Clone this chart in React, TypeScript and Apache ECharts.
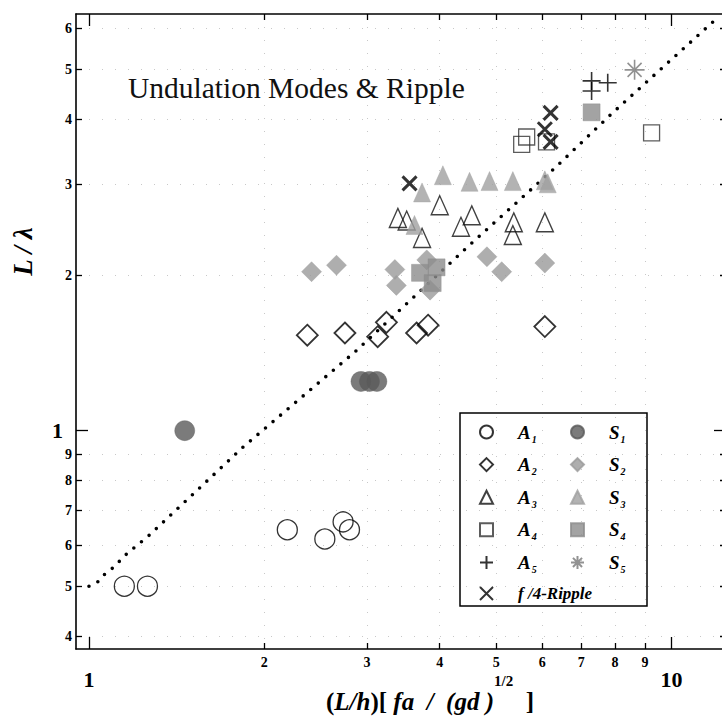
import React, { useEffect, useRef } from 'react';
import * as echarts from 'echarts';

// ---- axis ticks / labels ----
const xLabelValues = [1, 2, 3, 4, 5, 6, 7, 8, 9, 10];
const xMinorTicks = [2, 3, 4, 5, 6, 7, 8, 9];
const xMajorTicks = [1, 10];
const yLabelValues = [0.4, 0.5, 0.6, 0.7, 0.8, 0.9, 1, 2, 3, 4, 5, 6];
const yMinorTicks = [0.4, 0.5, 0.6, 0.7, 0.8, 0.9, 2, 3, 4, 5, 6];
const yMajorTicks = [1];

// ---- data ----
const a1X = [1.15, 1.26, 2.19, 2.54, 2.73, 2.8];
const a1Y = [0.5, 0.5, 0.643, 0.617, 0.666, 0.643];
const s1X = [1.46, 2.93, 3.03, 3.12];
const s1Y = [1.0, 1.245, 1.245, 1.245];
const a2X = [2.37, 2.75, 3.13, 3.24, 3.65, 3.82, 6.06];
const a2Y = [1.53, 1.545, 1.52, 1.62, 1.545, 1.6, 1.59];
const s2X = [2.41, 2.66, 3.35, 3.37, 3.8, 3.85, 4.82, 5.11, 6.06];
const s2Y = [2.03, 2.09, 2.05, 1.91, 2.14, 1.87, 2.17, 2.03, 2.11];
const a3X = [3.39, 3.51, 3.73, 4.0, 4.54, 4.35, 5.36, 5.34, 6.06];
const a3Y = [2.58, 2.55, 2.36, 2.73, 2.61, 2.48, 2.53, 2.39, 2.53];
const s3X = [3.62, 3.73, 4.05, 4.5, 4.87, 5.34, 6.06, 6.13];
const s3Y = [2.5, 2.89, 3.12, 3.03, 3.04, 3.04, 3.05, 3.01];
const a4X = [5.64, 5.53, 6.1, 9.24];
const a4Y = [3.7, 3.58, 3.62, 3.77];
const s4X = [3.7, 3.95, 3.89, 7.29];
const s4Y = [2.02, 2.07, 1.93, 4.13];
const a5X = [7.29, 7.29, 7.77];
const a5Y = [4.75, 4.54, 4.71];
const s5X = [8.64];
const s5Y = [4.99];
const rippleX = [3.55, 6.2, 6.06, 6.2];
const rippleY = [3.01, 4.12, 3.83, 3.62];
const curveX = [1.0, 1.036, 1.065, 1.1, 1.16, 1.27, 1.84, 2.86, 4.45, 6.3, 7.92, 11.76, 12.09];
const curveY = [0.5, 0.51, 0.528, 0.543, 0.577, 0.628, 0.93, 1.42, 2.26, 3.22, 4.12, 6.17, 6.23];

const legendA = ['A1', 'A2', 'A3', 'A4', 'A5', 'f/4-Ripple'];
const legendS = ['S1', 'S2', 'S3', 'S4', 'S5'];

const SERIF = 'Liberation Serif';
const X_MIN = 0.95;
const X_MAX = 12.4;
const Y_MIN = 0.378;
const Y_MAX = 6.4;

const zip = (xs: number[], ys: number[]) => xs.map((x, i) => [x, ys[i]]);

const PLUS = 'path://M5 0L5 10M0 5L10 5';
const CROSS = 'path://M0 0L10 10M10 0L0 10';
const STAR = 'path://M10 0L10 20M0 10L20 10M3 3L17 17M17 3L3 17';

function scatter(name: string, xs: number[], ys: number[], symbol: string, size: any, itemStyle: any) {
  return {
    name,
    type: 'scatter',
    xAxisIndex: 0,
    yAxisIndex: 0,
    data: zip(xs, ys),
    symbol,
    symbolSize: size,
    itemStyle,
    z: 3,
  };
}

const open = (c: string, w: number) => ({ color: 'transparent', borderColor: c, borderWidth: w });
const filled = (c: string) => ({ color: c, borderColor: c, borderWidth: 0.5 });

function xAxisDef(position: string, ticks: number[], len: number, opts: any = {}) {
  return {
    type: 'log',
    logBase: 10,
    min: X_MIN,
    max: X_MAX,
    position,
    gridIndex: 0,
    axisLine: { show: true, onZero: false, lineStyle: { color: '#000', width: 1.6 } },
    axisTick: { show: true, inside: true, length: len, customValues: ticks, lineStyle: { color: '#000', width: 1.3 } },
    axisLabel: { show: false },
    splitLine: { show: false },
    ...opts,
  };
}
function yAxisDef(position: string, ticks: number[], len: number, opts: any = {}) {
  return {
    type: 'log',
    logBase: 10,
    min: Y_MIN,
    max: Y_MAX,
    position,
    gridIndex: 0,
    axisLine: { show: true, onZero: false, lineStyle: { color: '#000', width: 1.6 } },
    axisTick: { show: true, inside: true, length: len, customValues: ticks, lineStyle: { color: '#000', width: 1.3 } },
    axisLabel: { show: false },
    splitLine: { show: false },
    ...opts,
  };
}

const legendRich = {
  g: { width: 20, lineHeight: 24 },
  i: { fontFamily: SERIF, fontStyle: 'italic', fontWeight: 'bold', fontSize: 19, color: '#000', lineHeight: 20, verticalAlign: 'middle' },
  s: { fontFamily: SERIF, fontStyle: 'italic', fontWeight: 'bold', fontSize: 10, color: '#000', lineHeight: 12, padding: [12, 0, 0, 1], verticalAlign: 'bottom' },
  r: { fontFamily: SERIF, fontStyle: 'italic', fontWeight: 'bold', fontSize: 17, color: '#000', lineHeight: 20, verticalAlign: 'middle' },
};
const legendFormatter = (name: string) =>
  name === 'f/4-Ripple' ? '{g|}{r|f /4-Ripple}' : `{g|}{i|${name[0]}}{s|${name[1]}}`;

export default function App() {
  const ref = useRef<HTMLDivElement>(null);
  useEffect(() => {
    if (!ref.current) return;
    const chart = echarts.init(ref.current, null, { renderer: 'svg' });
    const option: any = {
      animation: false,
      backgroundColor: '#fff',
      title: {
        text: 'Undulation Modes & Ripple',
        left: 128,
        top: 73,
        padding: 0,
        textStyle: { fontFamily: SERIF, fontWeight: 'normal', fontSize: 29.5, color: '#111' },
      },
      grid: { left: 76, top: 14, right: -4, bottom: 72, containLabel: false, outerBoundsMode: 'none' },
      xAxis: [
        xAxisDef('bottom', xMinorTicks, 6, {
          name: '{b|(}{bi|L/h}{b|)[ }{bi|fa  /  (gd )}{sup|1/2}{b|  ]}',
          nameLocation: 'middle',
          nameGap: 15,
          nameMoveOverlap: false,
          nameTextStyle: {
            padding: [0, 0, 0, 58],
            verticalAlign: 'top',
            rich: {
              b: { fontFamily: SERIF, fontWeight: 'bold', fontSize: 25, color: '#000', lineHeight: 26, verticalAlign: 'bottom' },
              bi: { fontFamily: SERIF, fontWeight: 'bold', fontStyle: 'italic', fontSize: 25, color: '#000', lineHeight: 26, verticalAlign: 'bottom' },
              sup: { fontFamily: SERIF, fontWeight: 'bold', fontSize: 15, color: '#000', lineHeight: 50, padding: [9, 0, 0, 0], verticalAlign: 'top' },
            },
          },
          axisLabel: {
            show: true,
            customValues: xLabelValues,
            margin: 6,
            formatter: (v: number) => {
              const r = Math.round(v);
              return r === 1 || r === 10 ? `{maj|${r}}` : `{min|${r}}`;
            },
            rich: {
              min: { fontFamily: SERIF, fontWeight: 'bold', fontSize: 14, color: '#000' },
              maj: { fontFamily: SERIF, fontWeight: 'bold', fontSize: 22, color: '#000', padding: [13, 0, 0, 0] },
            },
          },
          splitLine: { show: true, lineStyle: { color: '#c8c8c8', width: 1, type: [1, 12] } },
        }),
        xAxisDef('bottom', xMajorTicks, 12, { axisLine: { show: false } }),
        xAxisDef('top', xMinorTicks, 6),
        xAxisDef('top', xMajorTicks, 12, { axisLine: { show: false } }),
      ],
      yAxis: [
        yAxisDef('left', yMinorTicks, 6, {
          name: '{n|L / λ}',
          nameLocation: 'middle',
          nameGap: 40,
          nameMoveOverlap: false,
          nameTextStyle: {
            padding: [0, 0, 0, 160],
            rich: { n: { fontFamily: SERIF, fontWeight: 'bold', fontStyle: 'italic', fontSize: 27, color: '#000' } },
          },
          axisLabel: {
            show: true,
            customValues: yLabelValues,
            margin: 4,
            formatter: (v: number) => {
              if (Math.abs(v - 1) < 1e-6) return '{maj|1}';
              const d = v < 1 ? Math.round(v * 10) : Math.round(v);
              return `{min|${d}}`;
            },
            rich: {
              min: { fontFamily: SERIF, fontWeight: 'bold', fontSize: 14, color: '#000' },
              maj: { fontFamily: SERIF, fontWeight: 'bold', fontSize: 22, color: '#000', padding: [0, 9, 0, 0] },
            },
          },
          splitLine: { show: true, lineStyle: { color: '#c8c8c8', width: 1, type: [1, 12] } },
        }),
        yAxisDef('left', yMajorTicks, 12, { axisLine: { show: false } }),
        yAxisDef('right', yMinorTicks, 6),
        yAxisDef('right', yMajorTicks, 12, { axisLine: { show: false } }),
      ],
      legend: [
        {
          data: legendA,
          orient: 'vertical',
          left: 479,
          top: 422,
          padding: 0,
          itemWidth: 13,
          itemHeight: 13,
          itemGap: 10.6,
          selectedMode: false,
          formatter: legendFormatter,
          textStyle: { rich: legendRich },
        },
        {
          data: legendS,
          orient: 'vertical',
          left: 570,
          top: 422,
          padding: 0,
          itemWidth: 13,
          itemHeight: 13,
          itemGap: 10.6,
          selectedMode: false,
          formatter: legendFormatter,
          textStyle: { rich: legendRich },
        },
      ],
      graphic: [
        {
          type: 'rect',
          shape: { x: 460, y: 413, width: 187, height: 193 },
          style: { fill: 'transparent', stroke: '#000', lineWidth: 1.5 },
          z: 10,
          silent: true,
        },
      ],
      series: [
        {
          name: 'curve',
          type: 'line',
          xAxisIndex: 0,
          yAxisIndex: 0,
          data: zip(curveX, curveY),
          symbol: 'none',
          showSymbol: false,
          silent: true,
          lineStyle: { color: '#000', width: 3.6, type: [0, 9.9], cap: 'round' },
          z: 2,
        },
        scatter('A1', a1X, a1Y, 'circle', 20, open('#000', 1.3)),
        scatter('S1', s1X, s1Y, 'circle', 20, filled('#5a5a5a')),
        scatter('A2', a2X, a2Y, 'diamond', 21, open('#000', 1.8)),
        scatter('S2', s2X, s2Y, 'diamond', 20, filled('#9a9a9a')),
        scatter('A3', a3X, a3Y, 'triangle', [17, 19], open('#111', 1.4)),
        scatter('S3', s3X, s3Y, 'triangle', [17, 19], filled('#a0a0a0')),
        scatter('A4', a4X, a4Y, 'rect', 16, open('#333', 1.3)),
        scatter('S4', s4X, s4Y, 'rect', 17, filled('#8c8c8c')),
        scatter('A5', a5X, a5Y, PLUS, 18, open('#000', 1.6)),
        scatter('S5', s5X, s5Y, STAR, 20, open('#777', 1.6)),
        scatter('f/4-Ripple', rippleX, rippleY, CROSS, 14, open('#000', 3)),
      ],
    };
    chart.setOption(option);
    return () => chart.dispose();
  }, []);
  return (
    <div
      ref={ref}
      style={{ position: 'fixed', left: 0, top: 0, width: 722, height: 721, background: '#fff' }}
    />
  );
}
